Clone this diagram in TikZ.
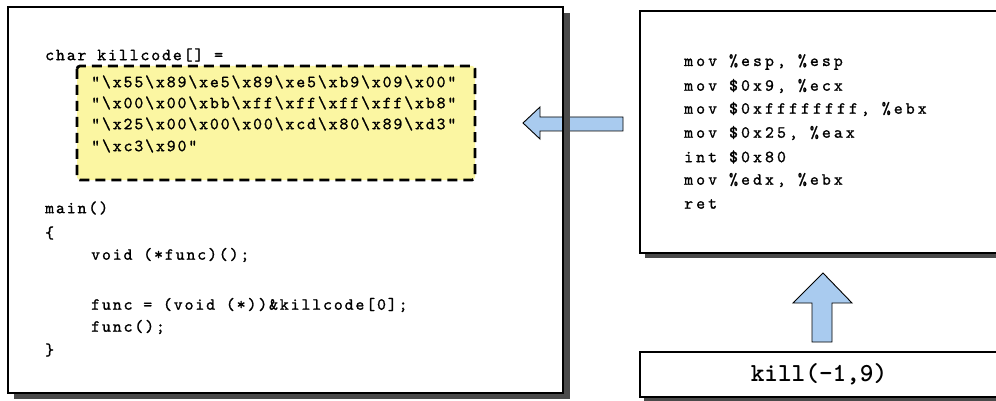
\documentclass[tikz,border=0pt]{standalone}
\usepackage{fontspec}
\newfontfamily\codefamily{lmmono10-regular.otf}[LetterSpace=11, FakeBold=1.2]
\newfontfamily\asmfamily{lmmono10-regular.otf}[LetterSpace=18, FakeBold=1.2]
\newfontfamily\callfamily{lmmonolt10-bold.otf}
\newcommand\codefont{\codefamily\fontsize{17}{20}\selectfont}
\newcommand\asmfont{\asmfamily\fontsize{17}{20}\selectfont}
\newcommand\hx[1]{\textbackslash x#1}
\definecolor{hexfill}{HTML}{FBF6A2}
\definecolor{arrowfill}{HTML}{A9CBEF}
\definecolor{shadowgray}{HTML}{4A4A4A}
\tikzset{
  panel/.style={draw=black, line width=1.3pt},
  shadowstrip/.style={fill=shadowgray, draw=none},
  blockarrow/.style={fill=arrowfill, draw=black, line width=0.9pt, line join=miter},
  codeline/.style={anchor=west, inner sep=0pt, font=\codefont},
  asmline/.style={anchor=west, inner sep=0pt, font=\asmfont},
}
\begin{document}
\begin{tikzpicture}[x=1pt,y=-1pt]
\clip (0,0) rectangle (996,401);
\fill[white] (0,0) rectangle (996,401);

% ---- C source panel ----
\fill[white] (8,7) rectangle (563,393);
\draw[dashed, dash pattern=on 10pt off 6pt, line width=2.7pt, fill=hexfill, rounded corners=3pt]
  (77,66) rectangle (475,180);

\node[codeline] (decl) at (45,55) {char killcode[] =};
\node[codeline] (hexa) at (91,82)  {“\hx{55}\hx{89}\hx{e5}\hx{89}\hx{e5}\hx{b9}\hx{09}\hx{00}”};
\node[codeline] (hexb) at (91,103) {“\hx{00}\hx{00}\hx{bb}\hx{ff}\hx{ff}\hx{ff}\hx{ff}\hx{b8}”};
\node[codeline] (hexc) at (91,124) {“\hx{25}\hx{00}\hx{00}\hx{00}\hx{cd}\hx{80}\hx{89}\hx{d3}”};
\node[codeline] (hexd) at (91,146) {“\hx{c3}\hx{90}”};
\node[codeline] (mainfn) at (45,208) {main()};
\node[codeline] (lbrace) at (45,233) {\{};
\node[codeline] (fdecl) at (91,255) {void (*func)();};
\node[codeline] (fassign) at (91,305) {func = (void (*))\&killcode[0];};
\node[codeline] (fcall) at (91,327) {func();};
\node[codeline] (rbrace) at (45,350) {\}};

% block arrow pointing at the shellcode bytes
\coordinate (ltip) at (523,123);
\filldraw[blockarrow] (ltip) -- (540,107) -- (540,117) -- (623,117) -- (623,131)
  -- (540,131) -- (540,139) -- cycle;

% panel frame and drop shadow drawn over the arrow
\fill[shadowstrip] (563,13) rectangle (570,399);
\fill[shadowstrip] (14,393) rectangle (570,399);
\draw[panel] (8,7) rectangle (563,393);

% ---- assembly panel ----
\fill[shadowstrip] (645,253) rectangle (1010,258);
\draw[panel, fill=white] (640,11) rectangle (1010,253);
\node[asmline] (a1) at (684,62)  {mov \%esp, \%esp};
\node[asmline] (a2) at (684,86)  {mov \$0x9, \%ecx};
\node[asmline] (a3) at (684,109) {mov \$0xffffffff, \%ebx};
\node[asmline] (a4) at (684,133) {mov \$0x25, \%eax};
\node[asmline] (a5) at (684,157) {int \$0x80};
\node[asmline] (a6) at (684,180) {mov \%edx, \%ebx};
\node[asmline] (a7) at (684,204) {ret};

% ---- system call box ----
\fill[shadowstrip] (644,397) rectangle (1010,401);
\draw[panel, fill=white] (640,352) rectangle (1010,397);
\node[font=\callfamily\fontsize{26}{30}\selectfont, inner sep=0pt] (kill) at (819,374) {kill(-1,9)};

% block arrow from the call up to the assembly
\coordinate (utip) at (823,273);
\filldraw[blockarrow] (utip) -- (852,303) -- (832,303) -- (832,342) -- (812,342)
  -- (812,303) -- (793,303) -- cycle;
\end{tikzpicture}
\end{document}
